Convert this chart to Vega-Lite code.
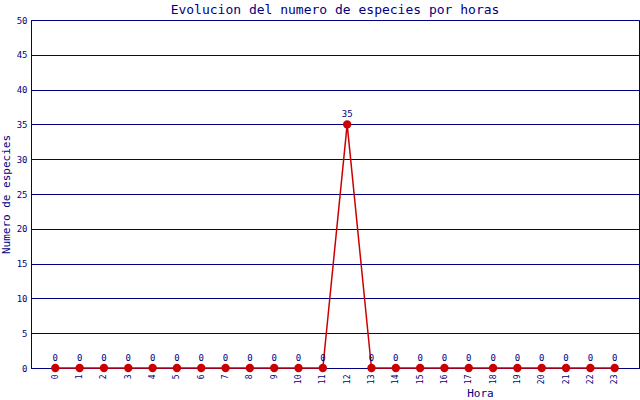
{
  "$schema": "https://vega.github.io/schema/vega-lite/v6.json",
  "autosize": "none",
  "width": 608,
  "height": 348,
  "padding": {"left": 31, "top": 20, "right": 1, "bottom": 32},
  "background": "white",
  "title": {
    "text": "Evolucion del numero de especies por horas",
    "font": "DejaVu Sans Mono",
    "fontSize": 13,
    "fontWeight": "normal",
    "color": "#000080",
    "offset": -1
  },
  "config": {
    "view": {"stroke": "#000080", "strokeWidth": 1},
    "axis": {
      "labelFont": "DejaVu Sans Mono",
      "titleFont": "DejaVu Sans Mono",
      "labelColor": "#000080",
      "titleColor": "#000080",
      "domainColor": "#000080",
      "labelFontSize": 9,
      "titleFontSize": 11,
      "titleFontWeight": "normal"
    }
  },
  "data": {
    "values": [
      {"hora": 0, "n": 0}, {"hora": 1, "n": 0}, {"hora": 2, "n": 0}, {"hora": 3, "n": 0},
      {"hora": 4, "n": 0}, {"hora": 5, "n": 0}, {"hora": 6, "n": 0}, {"hora": 7, "n": 0},
      {"hora": 8, "n": 0}, {"hora": 9, "n": 0}, {"hora": 10, "n": 0}, {"hora": 11, "n": 0},
      {"hora": 12, "n": 35}, {"hora": 13, "n": 0}, {"hora": 14, "n": 0}, {"hora": 15, "n": 0},
      {"hora": 16, "n": 0}, {"hora": 17, "n": 0}, {"hora": 18, "n": 0}, {"hora": 19, "n": 0},
      {"hora": 20, "n": 0}, {"hora": 21, "n": 0}, {"hora": 22, "n": 0}, {"hora": 23, "n": 0}
    ]
  },
  "encoding": {
    "x": {
      "field": "hora",
      "type": "ordinal",
      "sort": null,
      "scale": {"type": "point", "padding": 1},
      "axis": {
        "title": "Hora",
        "labelAngle": 270,
        "labelAlign": "right",
        "labelBaseline": "middle",
        "labelPadding": 6,
        "labelFontSize": 8,
        "ticks": false,
        "grid": false,
        "titleX": 449,
        "titleY": 25,
        "titleBaseline": "middle",
        "titleAnchor": "middle"
      }
    },
    "y": {
      "field": "n",
      "type": "quantitative",
      "scale": {"domain": [0, 50], "nice": false},
      "axis": {
        "title": "Numero de especies",
        "values": [0, 5, 10, 15, 20, 25, 30, 35, 40, 45, 50],
        "ticks": false,
        "labelPadding": 4,
        "grid": true,
        "gridColor": "#000080",
        "gridOpacity": 1,
        "titleX": -20,
        "titlePadding": 8
      }
    }
  },
  "layer": [
    {
      "mark": {"type": "line", "color": "#cc0000", "strokeWidth": 1.5}
    },
    {
      "mark": {"type": "circle", "color": "#cc0000", "opacity": 1, "size": 70}
    },
    {
      "mark": {"type": "text", "font": "DejaVu Sans Mono", "fontSize": 9, "color": "#000080", "dy": -10},
      "encoding": {"text": {"field": "n", "type": "quantitative"}}
    }
  ]
}
